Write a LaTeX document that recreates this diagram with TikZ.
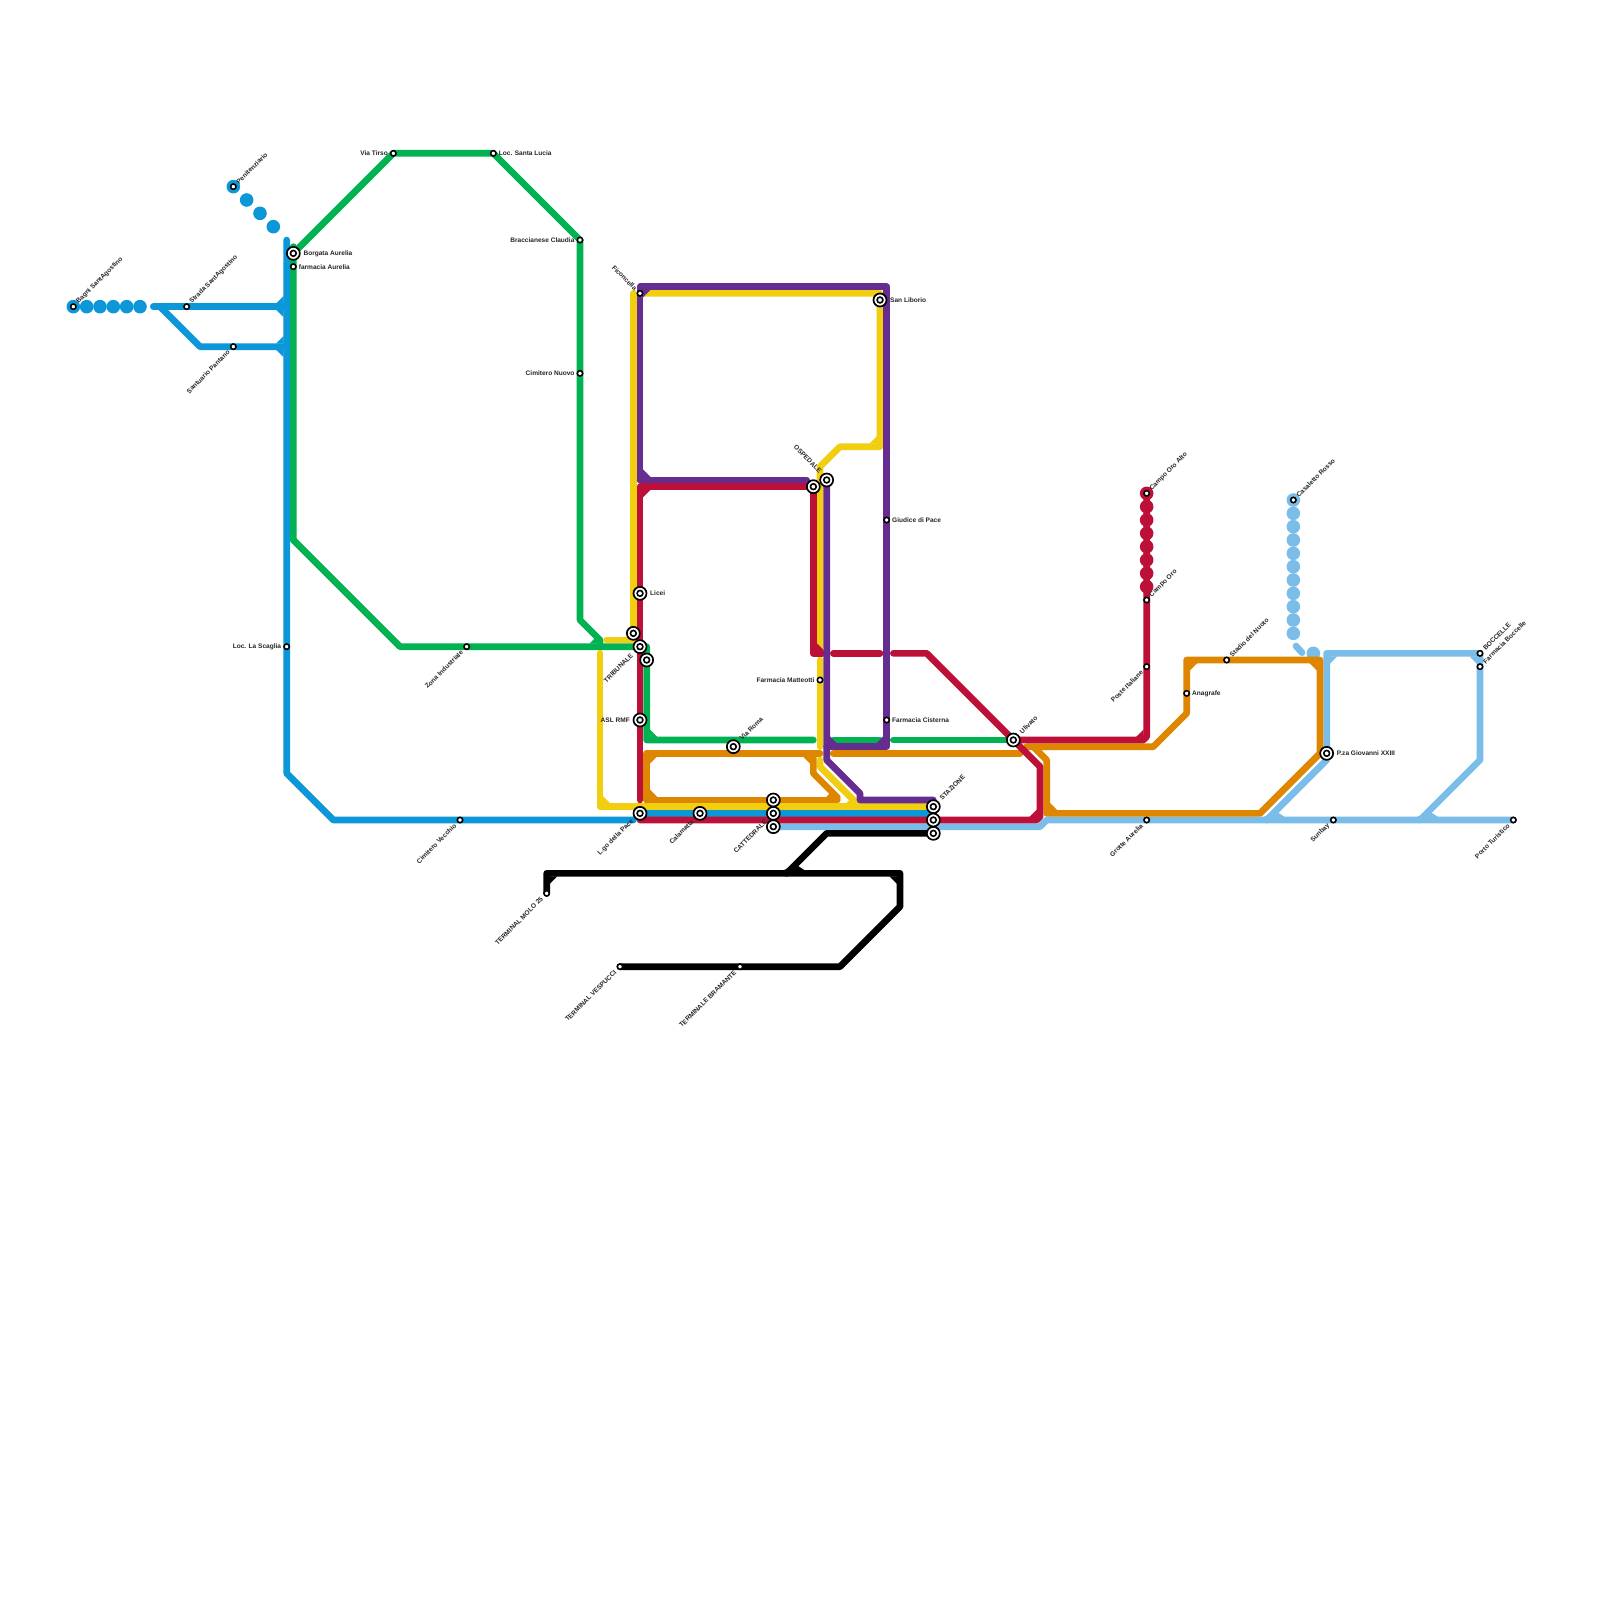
\documentclass[tikz,border=0pt]{standalone}
\usepackage{fontspec}
\setmainfont{Liberation Sans}
\definecolor{cblue}{HTML}{0C98D8}
\definecolor{cgreen}{HTML}{00B251}
\definecolor{cyellow}{HTML}{F2CE10}
\definecolor{cred}{HTML}{BC1038}
\definecolor{cpurple}{HTML}{662D91}
\definecolor{corange}{HTML}{DF8600}
\definecolor{clight}{HTML}{7ABDE9}
\tikzset{
 ln/.style={line width=6.67pt,line join=round,line cap=round},
 bl/.style={ln,draw=cblue}, gr/.style={ln,draw=cgreen}, ye/.style={ln,draw=cyellow},
 re/.style={ln,draw=cred}, pu/.style={ln,draw=cpurple}, or/.style={ln,draw=corange},
 lb/.style={ln,draw=clight}, bk/.style={ln,draw=black},
 dotn/.style={circle,minimum size=13.6pt,inner sep=0pt},
 stn/.style={circle,draw=black,fill=white,line width=1.6pt,minimum size=5.4pt,inner sep=0pt},
 ichg/.style={circle,draw=black,fill=white,line width=1.7pt,minimum size=13pt,inner sep=0pt},
 ichgin/.style={circle,draw=black,fill=white,line width=1.6pt,minimum size=5.8pt,inner sep=0pt},
 lbl/.style={font=\fontsize{6.55}{7}\selectfont\bfseries,text=black!85,inner sep=0pt},
 lr/.style={lbl,anchor=west},
 ll/.style={lbl,anchor=east},
 lu/.style={lbl,anchor=west,rotate=45},
 ld/.style={lbl,anchor=east,rotate=45},
 ln45/.style={lbl,anchor=east,rotate=-45},
}
\newcommand{\cham}[5]{\fill[#1] ({#2+.45*#4},{#3+.45*#5}) -- ({#2+1.6*#4},{#3+.45*#5}) -- ({#2+.45*#4},{#3+1.6*#5}) -- cycle;}
\begin{document}
\begin{tikzpicture}[x=6.6667pt,y=-6.6667pt]
\useasboundingbox (0,0) rectangle (240,240);
\fill[white] (0,0) rectangle (240,240);
% station positions
\coordinate (bagni) at (11,46); \coordinate (strada) at (28,46); \coordinate (pen) at (35,28);
\coordinate (sant) at (35,52); \coordinate (scaglia) at (43,97); \coordinate (cimv) at (69,123);
\coordinate (borgata) at (44,38); \coordinate (farma) at (44,40); \coordinate (tirso) at (59,23);
\coordinate (lucia) at (74,23); \coordinate (bracc) at (87,36); \coordinate (cimn) at (87,56);
\coordinate (zona) at (70,97); \coordinate (tr1) at (95,95); \coordinate (tr2) at (96,97); \coordinate (tr3) at (97,99);
\coordinate (licei) at (96,89); \coordinate (asl) at (96,108); \coordinate (pace) at (96,122);
\coordinate (cala) at (105,122); \coordinate (roma) at (110,112);
\coordinate (ca1) at (116,120); \coordinate (ca2) at (116,122); \coordinate (ca3) at (116,124);
\coordinate (st1) at (140,121); \coordinate (st2) at (140,123); \coordinate (st3) at (140,125);
\coordinate (fico) at (96,44); \coordinate (libo) at (132,45); \coordinate (osp1) at (122,73); \coordinate (osp2) at (124,72);
\coordinate (giud) at (133,78); \coordinate (mat) at (123,102); \coordinate (cist) at (133,108);
\coordinate (uli) at (152,111); \coordinate (coa) at (172,74); \coordinate (cor) at (172,90);
\coordinate (pos) at (172,100); \coordinate (anag) at (178,104); \coordinate (nuoto) at (184,99);
\coordinate (grot) at (172,123); \coordinate (sun) at (200,123); \coordinate (port) at (227,123);
\coordinate (gio) at (199,113); \coordinate (boc) at (222,98); \coordinate (fboc) at (222,100); \coordinate (cas) at (194,75);
\coordinate (molo) at (82,134); \coordinate (vesp) at (93,145); \coordinate (bram) at (111,145);
% light blue
\draw[lb] (ca3) -- (156,124) -- (157,123) -- (port);
\draw[lb] (gio) -- (199,114) -- (190,123);
\fill[clight] (189.4,122.6) -- (191.4,121.7) -- (192.8,122.6) -- cycle;
\draw[lb] (gio) -- (199,98) -- (boc) -- (fboc) -- (222,114) -- (213,123);
\cham{clight}{199}{98}{1}{1}
\cham{clight}{222}{98}{-1}{1}
\fill[clight] (212.4,122.6) -- (214.4,121.7) -- (215.8,122.6) -- cycle;
\draw[lb] (194.4,96.9) -- (195.3,97.9);
\foreach \y in {75,77,...,95} \node[dotn,fill=clight] (ld\y) at (194,\y) {};
\node[dotn,fill=clight] (ldx) at (197,98) {};
% blue
\draw[bl] (43,36) -- (43,116) -- (50,123) -- (95,123);
\draw[bl] (23,46) -- (43,46);
\cham{cblue}{43}{46}{-1}{-1}
\cham{cblue}{43}{46}{-1}{1}
\draw[bl] (24,46) -- (30,52) -- (43,52);
\cham{cblue}{43}{52}{-1}{-1}
\cham{cblue}{43}{52}{-1}{1}
\draw[bl] (pace) -- (140,122);
\foreach \x in {11,13,...,21} \node[dotn,fill=cblue] (bd\x) at (\x,46) {};
\foreach \i in {0,1,2,3} \node[dotn,fill=cblue] (pd\i) at (35+2*\i,28+2*\i) {};
% green
\draw[gr] (44,81) -- (borgata) -- (tirso) -- (lucia) -- (bracc) -- (87,93) -- (90,96) -- (90,97);
\draw[gr] (borgata) -- (44,37);
\cham{cgreen}{90}{97}{-1}{-1}
\draw[gr] (44,81) -- (60,97) -- (tr2) -- (97,97) -- (97,111) -- (122,111);
\cham{cgreen}{97}{111}{1}{-1}
\draw[gr] (125,111) -- (132,111);
\draw[gr] (134,111) -- (uli);
% yellow
\draw[ye] (95,44) -- (tr1) -- (95,96) -- (91,96);
\draw[ye] (fico) -- (132,44) -- (132,67) -- (126,67) -- (123,70) -- (123,97);
\cham{cyellow}{132}{67}{-1}{-1}
\draw[ye] (123,99) -- (123,112);
\draw[ye] (123,114) -- (123,115) -- (129,121);
\fill[cyellow] (126.8,120.6) -- (128.6,120.6) -- (127.8,119.6) -- cycle;
\draw[ye] (90,98) -- (90,121) -- (st1);
\cham{cyellow}{90}{121}{1}{-1}
% orange
\draw[or] (97,120) -- (97,113) -- (123,113);
\draw[or] (97,120) -- (125.6,120);
\cham{corange}{97}{113}{1}{1}
\cham{corange}{97}{120}{1}{-1}
\cham{corange}{122}{113}{-1}{1}
\draw[or] (122,113) -- (122,116) -- (125.6,119.6);
\fill[corange] (123.9,119.6) -- (125.5,119.6) -- (124.7,118.7) -- cycle;
\draw[or] (125,113) -- (153,113);
\draw[or] (154,112) -- (173,112) -- (178,107) -- (178,99) -- (198,99) -- (198,113) -- (189,122) -- (157,122) -- (157,114) -- (155,112);
\cham{corange}{178}{99}{1}{1}
\cham{corange}{198}{99}{-1}{1}
\cham{corange}{157}{122}{1}{-1}
% red
\draw[re] (osp1) -- (96,73) -- (96,120);
\cham{cred}{96}{73}{1}{1}
\draw[re] (osp1) -- (122,98) -- (123.3,98);
\cham{cred}{122}{98}{1}{-1}
\draw[re] (125,98) -- (132,98);
\draw[re] (134,98) -- (139,98) -- (uli) -- (156,115) -- (156,122.5) -- (155.5,123) -- (96,123);
\cham{cred}{156}{123}{-1}{-1}
\draw[re] (uli) -- (171.5,111) -- (172,110.5) -- (coa);
\cham{cred}{172}{111}{-1}{-1}
\foreach \y in {74,76,...,88} \node[dotn,fill=cred] (rd\y) at (172,\y) {};
% purple
\draw[pu] (96,72) -- (96,43) -- (133,43) -- (133,112) -- (124,112);
\draw[pu] (96,72) -- (121,72);
\cham{cpurple}{96}{72}{1}{-1}
\cham{cpurple}{96}{43}{1}{1}
\draw[pu] (osp2) -- (124,114) -- (129,119) -- (129,120) -- (140,120);
\cham{cpurple}{124}{112}{1}{-1}
\cham{cpurple}{133}{112}{-1}{-1}
% black
\draw[bk] (st3) -- (124,125) -- (118,131);
\fill[black] (117.4,130.6) -- (119.4,129.7) -- (120.8,130.6) -- cycle;
\draw[bk] (molo) -- (82,131) -- (135,131) -- (135,136) -- (126,145) -- (vesp);
\cham{black}{82}{131}{1}{1}
\cham{black}{135}{131}{-1}{1}
% stations
\foreach \n in {bagni,strada,pen,sant,scaglia,cimv,farma,tirso,lucia,bracc,cimn,zona,fico,giud,mat,cist,coa,cor,pos,anag,nuoto,grot,sun,port,boc,fboc,cas,molo,vesp,bram}
  \node[stn] (s\n) at (\n) {};
\foreach \n in {borgata,tr1,tr2,tr3,licei,asl,pace,cala,roma,ca1,ca2,ca3,st1,st2,st3,libo,osp1,osp2,uli,gio}
  {\node[ichg] (s\n) at (\n) {}; \node[ichgin] (i\n) at (\n) {};}
% labels
\node[lu] (t1) at ([shift={(0.6,-0.6)}]bagni) {Bagni SantAgostino};
\node[lu] (t2) at ([shift={(0.6,-0.6)}]strada) {Strada SantAgostino};
\node[lu] (t3) at ([shift={(0.6,-0.6)}]pen) {Penitenziario};
\node[ld] (t4) at ([shift={(-0.7,0.7)}]sant) {Santuario Pantano};
\node[ll] (t5) at ([shift={(-0.8,0)}]scaglia) {Loc. La Scaglia};
\node[ld] (t6) at ([shift={(-0.7,0.7)}]cimv) {Cimitero Vecchio};
\node[lr] (t7) at ([shift={(1.5,0)}]borgata) {Borgata Aurelia};
\node[lr] (t8) at ([shift={(0.8,0)}]farma) {farmacia Aurelia};
\node[ll] (t9) at ([shift={(-0.8,0)}]tirso) {Via Tirso};
\node[lr] (t10) at ([shift={(0.8,0)}]lucia) {Loc. Santa Lucia};
\node[ll] (t11) at ([shift={(-0.8,0)}]bracc) {Braccianese Claudia};
\node[ll] (t12) at ([shift={(-0.8,0)}]cimn) {Cimitero Nuovo};
\node[ld] (t13) at ([shift={(-0.7,0.7)}]zona) {Zona Industriale};
\node[ld] (t14) at ([shift={(-1.2,1.2)}]tr2) {TRIBUNALE};
\node[lr] (t15) at ([shift={(1.5,0)}]licei) {Licei};
\node[ll] (t16) at ([shift={(-1.5,0)}]asl) {ASL RMF};
\node[ld] (t17) at ([shift={(-1.1,1.1)}]pace) {L.go della Pace};
\node[ld] (t18) at ([shift={(-1.1,1.1)}]cala) {Calamatta};
\node[lu] (t19) at ([shift={(1.1,-1.1)}]roma) {Via Roma};
\node[ld] (t20) at ([shift={(-1.1,1.1)}]ca2) {CATTEDRALE};
\node[lu] (t21) at ([shift={(1.1,-1.1)}]st1) {STAZIONE};
\node[ln45] (t22) at ([shift={(-0.6,-0.6)}]fico) {Ficoncella};
\node[lr] (t23) at ([shift={(1.5,0)}]libo) {San Liborio};
\node[ln45] (t24) at ([shift={(1.1,-2.2)}]osp1) {OSPEDALE};
\node[lr] (t25) at ([shift={(0.8,0)}]giud) {Giudice di Pace};
\node[ll] (t26) at ([shift={(-0.8,0)}]mat) {Farmacia Matteotti};
\node[lr] (t27) at ([shift={(0.8,0)}]cist) {Farmacia Cisterna};
\node[lu] (t28) at ([shift={(1.1,-1.1)}]uli) {Ulivato};
\node[lu] (t29) at ([shift={(0.6,-0.6)}]coa) {Campo Oro Alto};
\node[lu] (t30) at ([shift={(0.6,-0.6)}]cor) {Campo Oro};
\node[ld] (t31) at ([shift={(-0.7,0.7)}]pos) {Poste Italiane};
\node[lr] (t32) at ([shift={(0.8,0)}]anag) {Anagrafe};
\node[lu] (t33) at ([shift={(0.6,-0.6)}]nuoto) {Stadio del Nuoto};
\node[ld] (t34) at ([shift={(-0.7,0.7)}]grot) {Grotte Aurelia};
\node[ld] (t35) at ([shift={(-0.7,0.7)}]sun) {Sunbay};
\node[ld] (t36) at ([shift={(-0.7,0.7)}]port) {Porto Turistico};
\node[lr] (t37) at ([shift={(1.5,0)}]gio) {P.za Giovanni XXIII};
\node[lu] (t38) at ([shift={(0.6,-0.6)}]boc) {BOCCELLE};
\node[lu] (t39) at ([shift={(0.6,-0.6)}]fboc) {Farmacia Boccelle};
\node[lu] (t40) at ([shift={(0.6,-0.6)}]cas) {Casaletto Rosso};
\node[ld] (t41) at ([shift={(-0.7,0.7)}]molo) {TERMINAL MOLO 25};
\node[ld] (t42) at ([shift={(-0.7,0.7)}]vesp) {TERMINAL VESPUCCI};
\node[ld] (t43) at ([shift={(-0.7,0.7)}]bram) {TERMINALE BRAMANTE};
\end{tikzpicture}
\end{document}
